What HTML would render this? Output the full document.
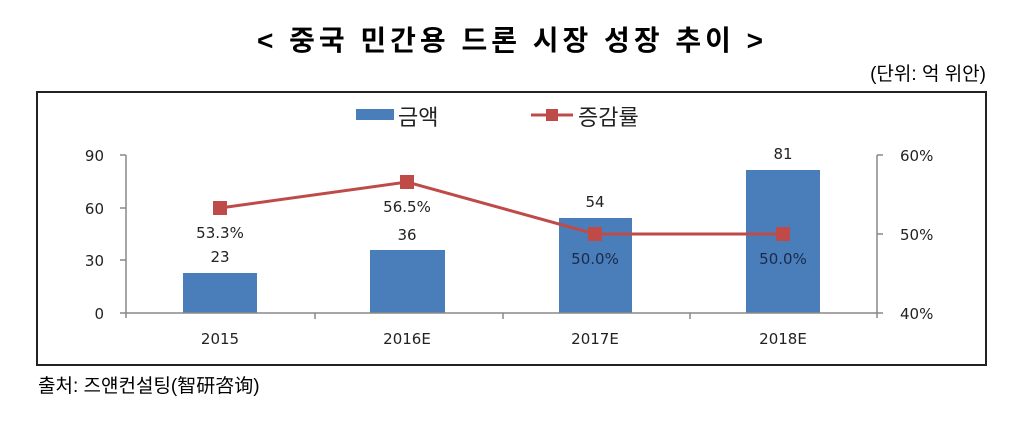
<!DOCTYPE html>
<html><head><meta charset="utf-8"><style>
body{margin:0;background:#fff;width:1024px;height:425px;overflow:hidden;font-family:"Liberation Sans","Noto Sans CJK KR",sans-serif}
</style></head><body>
<svg width="1024" height="425" xmlns="http://www.w3.org/2000/svg" font-family="Liberation Sans, Noto Sans CJK KR, sans-serif">
<text x="512" y="50" text-anchor="middle" font-size="28" font-weight="bold" letter-spacing="4" fill="#000">&lt; 중국 민간용 드론 시장 성장 추이 &gt;</text>
<text x="986" y="80" text-anchor="end" font-size="19" fill="#000">(단위: 억 위안)</text>
<rect x="37" y="92" width="949" height="273" fill="#fff" stroke="#222" stroke-width="2"/>
<rect x="356" y="109" width="38" height="11" fill="#4a7ebb"/>
<text x="398" y="125" font-size="22" fill="#222">금액</text>
<line x1="531" y1="115" x2="573" y2="115" stroke="#be4b48" stroke-width="3"/>
<rect x="546" y="109" width="12" height="12" fill="#be4b48"/>
<text x="578" y="125" font-size="22" fill="#222">증감률</text>
<g fill="#4a7ebb">
<rect x="183" y="273" width="74" height="40"/>
<rect x="370" y="250" width="75" height="63"/>
<rect x="559" y="218" width="73" height="95"/>
<rect x="746" y="170" width="74" height="143"/>
</g>
<g stroke="#888" stroke-width="1.5" fill="none">
<line x1="126" y1="155" x2="126" y2="318"/>
<line x1="120" y1="155" x2="126" y2="155"/><line x1="120" y1="208" x2="126" y2="208"/><line x1="120" y1="260" x2="126" y2="260"/>
<line x1="120" y1="313" x2="883" y2="313"/>
<line x1="315" y1="313" x2="315" y2="319"/><line x1="503" y1="313" x2="503" y2="319"/><line x1="690" y1="313" x2="690" y2="319"/>
<line x1="877" y1="155" x2="877" y2="318"/>
<line x1="877" y1="155" x2="883" y2="155"/><line x1="877" y1="234" x2="883" y2="234"/>
</g>
<g font-family="DejaVu Sans, sans-serif" font-size="15" fill="#222">
<g text-anchor="end">
<text x="104" y="161">90</text><text x="104" y="214">60</text><text x="104" y="266">30</text><text x="104" y="319">0</text>
</g>
<text x="900" y="161">60%</text><text x="900" y="240">50%</text><text x="900" y="319">40%</text>
<g text-anchor="middle">
<text x="220" y="344">2015</text><text x="407" y="344">2016E</text><text x="595" y="344">2017E</text><text x="783" y="344">2018E</text>
<text x="220" y="262">23</text><text x="407" y="240">36</text><text x="595" y="207">54</text><text x="783" y="159">81</text>
<text x="220" y="238">53.3%</text><text x="407" y="212">56.5%</text>
<text x="595" y="264" fill="#1a2a4a">50.0%</text><text x="783" y="264" fill="#1a2a4a">50.0%</text>
</g>
</g>
<polyline points="220,208 407,182 595,234 783,234" fill="none" stroke="#be4b48" stroke-width="3"/>
<g fill="#be4b48">
<rect x="213" y="201" width="14" height="14"/><rect x="400" y="175" width="14" height="14"/><rect x="588" y="227" width="14" height="14"/><rect x="776" y="227" width="14" height="14"/>
</g>
<text x="38" y="392" font-size="19" fill="#000">출처: 즈얜컨설팅(智研咨询)</text>
</svg>
</body></html>
